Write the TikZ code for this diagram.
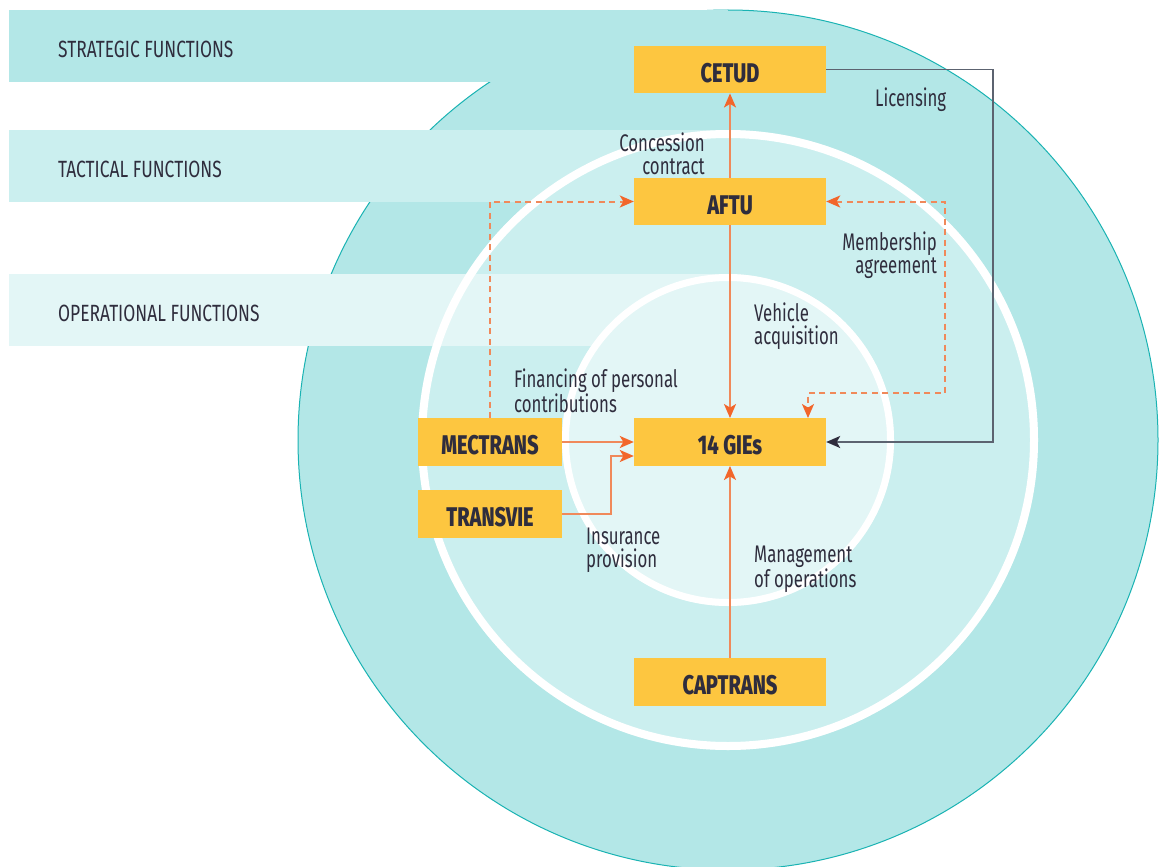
\documentclass[tikz,border=0pt]{standalone}
\usepackage{fontspec}
\setmainfont{Fira Sans}[FakeStretch=0.70]
\newfontfamily\bandfont{Fira Sans}[FakeStretch=0.74]
\newfontfamily\boxfont{Fira Sans ExtraBold}[FakeStretch=0.74]
\usetikzlibrary{arrows.meta}
\definecolor{ringA}{HTML}{B3E7E7}
\definecolor{ringB}{HTML}{CBEFEF}
\definecolor{ringC}{HTML}{E3F6F6}
\definecolor{rimc}{HTML}{1AB3B3}
\definecolor{boxc}{HTML}{FDC640}
\definecolor{ink}{HTML}{2F2D3D}
\definecolor{oline}{HTML}{F0895A}
\definecolor{otip}{HTML}{F2662B}
\definecolor{dline}{HTML}{5C6370}
\begin{document}
\begin{tikzpicture}[x=1pt,y=-1pt,
  box/.style={rectangle, fill=boxc, text=ink, font=\boxfont\fontsize{27}{28}\selectfont,
    inner sep=0pt, minimum height=47.5pt, minimum width=192pt, text height=25.6pt, text depth=0pt},
  sbox/.style={box, minimum width=144pt},
  lbl/.style={text=ink, font=\fontsize{24}{22.5}\selectfont, inner sep=0pt},
  bandlbl/.style={text=ink, font=\bandfont\fontsize{23.5}{24}\selectfont, inner sep=0pt, anchor=base west},
  otipped/.style={-{Stealth[length=14pt,width=12pt,inset=3.5pt,color=otip]}},
  twotipped/.style={{Stealth[length=14pt,width=12pt,inset=3.5pt,color=otip]}-{Stealth[length=14pt,width=12pt,inset=3.5pt,color=otip]}},
  osolid/.style={draw=oline, line width=2pt},
  odashed/.style={draw=oline, line width=2pt, dash pattern=on 6pt off 4.5pt},
  dsolid/.style={draw=dline, line width=1.8pt, -{Stealth[length=14pt,width=12pt,inset=3.5pt,color=ink]}}
]
\useasboundingbox (0,0) rectangle (1159,867);
\fill[white] (0,0) rectangle (1159,867);
% circles
\coordinate (c) at (728,440);
\filldraw[fill=ringA, draw=rimc, line width=1pt] (c) circle[radius=430pt];
\fill[ringB] (c) circle[radius=310pt];
\fill[ringC] (c) circle[radius=166pt];
% bands
\fill[ringA] (9,10) rectangle (728,82);
\fill[ringB] (9,130) rectangle (728,202);
\fill[ringC] (9,274) rectangle (728,346);
% white rings
\draw[white, line width=8pt] (c) circle[radius=306pt];
\draw[white, line width=7pt] (c) circle[radius=162.5pt];
% band titles
\node[bandlbl] (tstrat) at (58,57.5) {STRATEGIC FUNCTIONS};
\node[bandlbl] (ttact) at (58,177.5) {TACTICAL FUNCTIONS};
\node[bandlbl] (toper) at (58,321.5) {OPERATIONAL FUNCTIONS};
% boxes
\node[box] (cetud) at (730,69.5) {CETUD};
\node[box] (aftu) at (730,201.5) {AFTU};
\node[box] (gies) at (730,442) {14 GIEs};
\node[box] (captrans) at (730,682) {CAPTRANS};
\node[sbox] (mectrans) at (490,442) {MECTRANS};
\node[sbox] (transvie) at (490,514) {TRANSVIE};
% helper coordinates
\coordinate (tj) at (611,456);
\coordinate (m1) at (945,393);
\coordinate (m2) at (808,393);
\coordinate (lc) at (993,70);
% connectors
\draw[osolid, otipped] (aftu.north) -- (cetud.south);
\draw[osolid, otipped] (aftu.south) -- (gies.north);
\draw[osolid, otipped] (captrans.north) -- (gies.south);
\draw[osolid, otipped] (mectrans.east) -- (gies.west);
\draw[osolid, otipped] (transvie.east) -| (tj) -- (tj -| gies.west);
\draw[odashed, otipped] (mectrans.north) |- (aftu.west);
\draw[odashed, twotipped] (aftu.east) -| (m1) -- (m2) -- (m2 |- gies.north);
\draw[dsolid] (cetud.east) -| (lc |- gies.east) -- (gies.east);
% labels
\node[lbl, anchor=base west] (llic) at (875,106) {Licensing};
\node[lbl, anchor=north east, align=right] (lcon) at (705,133) {Concession\\contract};
\node[lbl, anchor=north east, align=right] (lmem) at (937,232) {Membership\\agreement};
\node[lbl, anchor=north west, align=left] (lveh) at (754,303) {Vehicle\\acquisition};
\node[lbl, anchor=north west, align=left] (lfin) at (514,369) {Financing of personal\\contributions};
\node[lbl, anchor=north west, align=left] (lins) at (586,528) {Insurance\\provision};
\node[lbl, anchor=north west, align=left] (lman) at (754,546) {Management\\of operations};
\end{tikzpicture}
\end{document}
